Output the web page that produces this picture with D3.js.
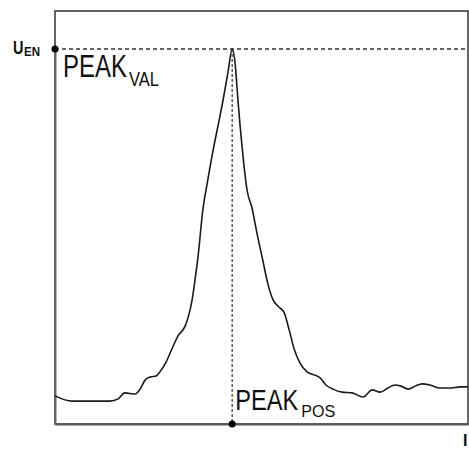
<!DOCTYPE html>
<html>
<head>
<meta charset="utf-8">
<script src="https://cdn.jsdelivr.net/npm/d3@7"></script>
<style>
  body { margin: 0; background: #fff; }
  text { font-family: "Liberation Sans", Arial, sans-serif; }
</style>
</head>
<body>
<script>
// signal trace, x in % of sweep, y relative to U_EN
var xVals = [0, 4.1, 8.5, 13.3, 15.3, 16.9, 19.4, 20.6, 21.8, 23.0, 24.5, 25.4, 26.9, 28.3, 29.8,
  31.5, 32.2, 33.2, 33.9, 34.6, 35.8, 37.0, 38.3, 39.5, 40.7, 41.9, 42.9, 43.6, 44.3, 44.8,
  45.3, 45.8, 46.5, 47.7, 48.9, 50.4, 51.6, 52.8, 54.2, 55.4, 56.7, 57.9, 59.3, 61.0, 62.7,
  64.2, 65.6, 67.3, 69.5, 71.9, 74.6, 76.8, 78.7, 80.6, 82.3, 83.8, 85.5, 87.2, 88.9, 90.8,
  93.2, 95.6, 98.1, 100];
var yVals = [0.075, 0.061, 0.061, 0.061, 0.067, 0.083, 0.080, 0.093, 0.117, 0.125, 0.128, 0.139, 0.165, 0.200, 0.235,
  0.261, 0.283, 0.331, 0.384, 0.443, 0.571, 0.651, 0.731, 0.797, 0.864, 0.939, 1.0, 0.963, 0.864, 0.797,
  0.739, 0.685, 0.624, 0.576, 0.509, 0.432, 0.371, 0.331, 0.312, 0.299, 0.251, 0.200, 0.163, 0.139, 0.131,
  0.123, 0.104, 0.093, 0.085, 0.083, 0.072, 0.091, 0.085, 0.096, 0.104, 0.101, 0.093, 0.101, 0.107, 0.104,
  0.096, 0.096, 0.099, 0.099];
var peakPos = 42.9;
var peakVal = 1.0;

var width = 469, height = 450;
var mLeft = 55, mRight = 468, mTop = 11, mBottom = 424;

var x = d3.scaleLinear().domain([0, 100]).range([mLeft, mRight]);
var y = d3.scaleLinear().domain([0, 1]).range([mBottom, 49]);

var svg = d3.select("body").append("svg")
  .attr("width", width)
  .attr("height", height);

// frame
svg.append("rect")
  .attr("x", mLeft).attr("y", mTop)
  .attr("width", mRight - mLeft).attr("height", mBottom - mTop)
  .attr("fill", "none").attr("stroke", "#333").attr("stroke-width", 1.5);

// axes without ticks
svg.append("g").attr("transform", "translate(0," + mBottom + ")")
  .call(d3.axisBottom(x).tickValues([]).tickSizeOuter(0))
  .select(".domain").attr("stroke", "#555").attr("stroke-width", 2);
svg.append("g").attr("transform", "translate(" + mLeft + ",0)")
  .call(d3.axisLeft(y).tickValues([]).tickSizeOuter(0))
  .select(".domain").attr("stroke", "#666").attr("stroke-width", 2);

// guide lines
svg.append("line")
  .attr("x1", x(0)).attr("x2", x(100))
  .attr("y1", y(peakVal)).attr("y2", y(peakVal))
  .attr("stroke", "#333").attr("stroke-width", 1.3).attr("stroke-dasharray", "4,3");
svg.append("line")
  .attr("x1", x(peakPos)).attr("x2", x(peakPos))
  .attr("y1", y(peakVal)).attr("y2", y(0))
  .attr("stroke", "#444").attr("stroke-width", 1.3).attr("stroke-dasharray", "3,2");

var data = xVals.map(function(d, i) { return [d, yVals[i]]; });
var line = d3.line()
  .x(function(d) { return x(d[0]); })
  .y(function(d) { return y(d[1]); })
  .curve(d3.curveMonotoneX);

svg.append("path")
  .datum(data)
  .attr("d", line)
  .attr("fill", "none")
  .attr("stroke", "#1a1a1a")
  .attr("stroke-width", 1.6)
  .attr("stroke-linejoin", "round");

// dots
svg.append("circle").attr("cx", x(0)).attr("cy", y(peakVal)).attr("r", 3.5).attr("fill", "#000");
svg.append("circle").attr("cx", x(peakPos)).attr("cy", y(0)).attr("r", 3.5).attr("fill", "#000");

// labels, squeezed horizontally (no narrow font here)
function label(tx, ty, str, size, len, bold) {
  var t = svg.append("text")
    .attr("font-size", size)
    .attr("font-weight", bold ? "bold" : "normal")
    .attr("fill", "#111")
    .text(str);
  var sx = len / t.node().getComputedTextLength();
  t.attr("transform", "translate(" + tx + "," + ty + ") scale(" + sx + ",1)");
}
label(13, 54, "U", 19, 10.5, true);
label(24, 56, "EN", 12, 16, true);

label(63, 77, "PEAK", 31, 64, false);
label(129, 86, "VAL", 21, 30, false);

label(x(peakPos) + 3, 410, "PEAK", 30, 63, false);
label(x(peakPos) + 69, 417, "POS", 17, 34, false);

label(463, 446, "I", 17, 4.5, true);
</script>
</body>
</html>
